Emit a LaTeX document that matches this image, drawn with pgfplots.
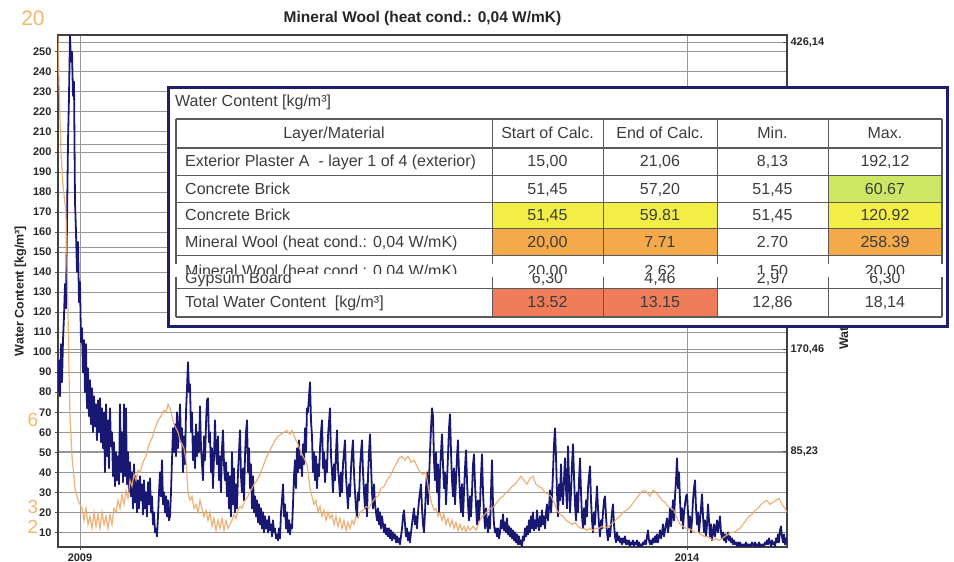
\documentclass[border=0pt]{standalone}
\usepackage{fontspec}
\setmainfont{Liberation Sans}
\usepackage{pgfplots}
\pgfplotsset{compat=1.18}
\definecolor{navyline}{RGB}{24,24,115}
\definecolor{orangeline}{RGB}{236,168,104}
\definecolor{gridgray}{RGB}{150,150,150}
\definecolor{framenavy}{RGB}{30,30,110}
\definecolor{cellyellow}{RGB}{243,238,70}
\definecolor{cellgreen}{RGB}{205,230,100}
\definecolor{cellorange}{RGB}{244,170,75}
\definecolor{cellred}{RGB}{240,125,90}
\definecolor{txt}{RGB}{60,60,60}
\definecolor{tablegray}{RGB}{90,90,90}
\definecolor{labelorange}{RGB}{242,184,104}
\begin{document}
\begin{tikzpicture}
\path[use as bounding box] (0,0) rectangle (954pt,562pt);
% right axis
\begin{axis}[at={(58pt,15pt)}, anchor=south west, scale only axis, width=729pt, height=512pt,
 xmin=-66, xmax=2121, ymin=5.8, ymax=432.5,
 axis x line=none, axis y line*=right,
 ytick={85.23,170.46,255.69,340.92,426.14},
 yticklabels={{85,23},{170,46},{255,69},{340,92},{426,14}},
 ymajorgrids, grid style={gridgray, line width=0.8pt},
 minor y tick num=4, tick align=inside,
 y axis line style={draw=black!75, line width=1.6pt},
 tick style={draw=black!70, line width=0.6pt},
 yticklabel style={font=\bfseries\fontsize{11}{12}\selectfont, text=black!85},
 ylabel={Water Content [kg/m³]},
 ylabel style={font=\bfseries\fontsize{12.5}{14}\selectfont, text=black!85, at={(axis description cs:1.0796,0.512)}, anchor=center},
]
\end{axis}
% main axis
\begin{axis}[at={(58pt,15pt)}, anchor=south west, scale only axis, width=729pt, height=512pt,
 xmin=-66, xmax=2121, ymin=2.70, ymax=258.39,
 xtick={0,1821}, xticklabels={2009,2014},
 ytick={10,20,...,250},
 xtick pos=bottom, ytick pos=left,
 grid=major, grid style={gridgray, line width=0.8pt},
 axis line style={draw=black!75, line width=1.6pt},
 tick style={draw=black!70, line width=0.8pt}, tick align=outside, major tick length=3pt,
 /pgf/number format/assume math mode=true,
 ticklabel style={font=\bfseries\fontsize{11}{12}\selectfont, text=black!85},
 title={Mineral Wool (heat cond.: 0,04 W/mK)},
 title style={font=\bfseries\fontsize{15.5}{17}\selectfont, text=black!85, yshift=0pt},
 ylabel={Water Content [kg/m³]},
 ylabel style={font=\bfseries\fontsize{12.5}{14}\selectfont, text=black!85},
]
\addplot[navyline, line width=1.8pt, line join=round] coordinates {
(-66,80)(-63,96)(-60,78)(-57,104)(-54,85)(-51,106)(-48,118)(-45,134)(-42,122)(-39,165)
(-36,205)(-33,228)(-30,258)(-27,245)(-24,250)(-21,228)(-18,235)(-15,175)(-12,160)(-9,140)
(-6,155)(-3,125)(0,135)(3,105)(6,112)(9,90)(12,106)(15,80)(18,104)(21,72)
(24,92)(27,68)(30,86)(33,64)(36,82)(39,60)(42,78)(45,63)(48,74)(51,56)
(54,76)(57,60)(60,77)(63,55)(66,72)(69,52)(72,70)(75,40)(78,74)(81,48)
(84,66)(87,42)(90,72)(93,53)(96,60)(99,38)(102,55)(105,33)(108,50)(111,36)
(114,48)(117,34)(120,74)(123,40)(126,60)(129,35)(132,74)(135,38)(138,72)(141,34)
(144,50)(147,30)(150,45)(153,28)(156,40)(159,22)(162,44)(165,25)(168,38)(171,20)
(174,36)(177,22)(180,38)(183,26)(186,34)(189,19)(192,36)(195,22)(198,30)(201,18)
(204,35)(207,24)(210,37)(213,20)(216,28)(219,14)(222,20)(225,10)(228,12)(231,8)
(234,18)(237,30)(240,40)(243,28)(246,46)(249,24)(252,30)(255,20)(258,28)(261,18)
(264,26)(267,16)(270,18)(273,30)(276,46)(279,62)(282,50)(285,64)(288,48)(291,70)
(294,52)(297,60)(300,74)(303,55)(306,62)(309,40)(312,58)(315,44)(318,70)(321,82)
(324,95)(327,80)(330,84)(333,60)(336,70)(339,46)(342,58)(345,42)(348,64)(351,48)
(354,60)(357,50)(360,73)(363,52)(366,44)(369,36)(372,58)(375,46)(378,64)(381,76)
(384,77)(387,55)(390,60)(393,40)(396,52)(399,32)(402,48)(405,66)(408,50)(411,44)
(414,58)(417,36)(420,48)(423,30)(426,52)(429,61)(432,44)(435,36)(438,45)(441,28)
(444,40)(447,22)(450,38)(453,18)(456,50)(459,24)(462,42)(465,20)(468,34)(471,22)
(474,40)(477,50)(480,61)(483,38)(486,30)(489,42)(492,26)(495,48)(498,60)(501,66)
(504,40)(507,52)(510,32)(513,44)(516,22)(519,38)(522,20)(525,28)(528,18)(531,26)
(534,15)(537,24)(540,14)(543,22)(546,12)(549,20)(552,10)(555,18)(558,12)(561,16)
(564,10)(567,18)(570,11)(573,14)(576,8)(579,16)(582,10)(585,12)(588,7)(591,9)
(594,6)(597,12)(600,7)(603,20)(606,26)(609,34)(612,18)(615,24)(618,12)(621,20)
(624,10)(627,16)(630,9)(633,14)(636,12)(639,24)(642,38)(645,46)(648,32)(651,52)
(654,40)(657,56)(660,42)(663,48)(666,38)(669,54)(672,44)(675,62)(678,50)(681,72)
(684,70)(687,78)(690,85)(693,66)(696,58)(699,40)(702,50)(705,36)(708,48)(711,32)
(714,44)(717,38)(720,52)(723,60)(726,66)(729,42)(732,50)(735,35)(738,46)(741,40)
(744,58)(747,65)(750,72)(753,48)(756,40)(759,30)(762,44)(765,36)(768,50)(771,61)
(774,42)(777,36)(780,28)(783,40)(786,30)(789,44)(792,50)(795,56)(798,38)(801,30)
(804,22)(807,34)(810,28)(813,42)(816,50)(819,56)(822,40)(825,30)(828,22)(831,18)
(834,30)(837,26)(840,42)(843,50)(846,56)(849,40)(852,30)(855,22)(858,34)(861,18)
(864,38)(867,50)(870,59)(873,44)(876,30)(879,22)(882,34)(885,24)(888,20)(891,16)
(894,22)(897,14)(900,20)(903,12)(906,18)(909,14)(912,10)(915,14)(918,9)(921,12)
(924,8)(927,12)(930,7)(933,11)(936,6)(939,10)(942,7)(945,9)(948,5)(951,8)
(954,5)(957,7)(960,4)(963,8)(966,12)(969,18)(972,21)(975,14)(978,8)(981,12)
(984,6)(987,10)(990,5)(993,10)(996,14)(999,18)(1002,22)(1005,14)(1008,18)(1011,12)
(1014,20)(1017,26)(1020,30)(1023,34)(1026,22)(1029,14)(1032,10)(1035,20)(1038,32)(1041,40)
(1044,24)(1047,36)(1050,50)(1053,62)(1056,72)(1059,68)(1062,46)(1065,36)(1068,50)(1071,30)
(1074,44)(1077,20)(1080,40)(1083,50)(1086,59)(1089,44)(1092,32)(1095,40)(1098,24)(1101,36)
(1104,48)(1107,62)(1110,69)(1113,50)(1116,36)(1119,28)(1122,42)(1125,24)(1128,36)(1131,48)
(1134,56)(1137,40)(1140,28)(1143,20)(1146,34)(1149,18)(1152,30)(1155,42)(1158,51)(1161,36)
(1164,24)(1167,16)(1170,28)(1173,18)(1176,30)(1179,44)(1182,49)(1185,34)(1188,24)(1191,14)
(1194,26)(1197,16)(1200,24)(1203,38)(1206,49)(1209,30)(1212,20)(1215,12)(1218,22)(1221,14)
(1224,10)(1227,18)(1230,12)(1233,30)(1236,46)(1239,24)(1242,14)(1245,10)(1248,12)(1251,8)
(1254,12)(1257,7)(1260,10)(1263,16)(1266,12)(1269,19)(1272,11)(1275,15)(1278,10)(1281,17)
(1284,9)(1287,13)(1290,8)(1293,12)(1296,7)(1299,11)(1302,6)(1305,10)(1308,5)(1311,9)
(1314,4)(1317,8)(1320,4)(1323,6)(1326,3)(1329,8)(1332,6)(1335,12)(1338,8)(1341,13)
(1344,9)(1347,16)(1350,10)(1353,18)(1356,12)(1359,20)(1362,11)(1365,16)(1368,12)(1371,21)
(1374,14)(1377,11)(1380,18)(1383,13)(1386,21)(1389,14)(1392,18)(1395,12)(1398,20)(1401,24)
(1404,16)(1407,22)(1410,31)(1413,20)(1416,28)(1419,40)(1422,54)(1425,62)(1428,48)(1431,30)
(1434,18)(1437,34)(1440,26)(1443,44)(1446,30)(1449,24)(1452,36)(1455,47)(1458,32)(1461,22)
(1464,53)(1467,36)(1470,20)(1473,30)(1476,44)(1479,54)(1482,38)(1485,24)(1488,16)(1491,30)
(1494,20)(1497,36)(1500,47)(1503,30)(1506,18)(1509,12)(1512,22)(1515,14)(1518,26)(1521,18)
(1524,32)(1527,38)(1530,43)(1533,26)(1536,16)(1539,10)(1542,20)(1545,14)(1548,24)(1551,33)
(1554,22)(1557,14)(1560,8)(1563,16)(1566,12)(1569,20)(1572,26)(1575,28)(1578,18)(1581,10)
(1584,6)(1587,12)(1590,8)(1593,14)(1596,20)(1599,24)(1602,14)(1605,8)(1608,5)(1611,10)
(1614,6)(1617,8)(1620,5)(1623,7)(1626,4)(1629,7)(1632,5)(1635,8)(1638,4)(1641,6)
(1644,4)(1647,6)(1650,3)(1653,5)(1656,4)(1659,6)(1662,3)(1665,5)(1668,4)(1671,6)
(1674,3)(1677,5)(1680,3)(1683,4)(1686,3)(1689,5)(1692,4)(1695,6)(1698,4)(1701,8)
(1704,11)(1707,6)(1710,4)(1713,6)(1716,4)(1719,7)(1722,5)(1725,8)(1728,5)(1731,9)
(1734,5)(1737,8)(1740,11)(1743,7)(1746,10)(1749,14)(1752,8)(1755,11)(1758,14)(1761,17)
(1764,10)(1767,14)(1770,22)(1773,13)(1776,18)(1779,26)(1782,16)(1785,28)(1788,36)(1791,47)
(1794,32)(1797,40)(1800,26)(1803,16)(1806,22)(1809,12)(1812,20)(1815,24)(1818,28)(1821,29)
(1824,20)(1827,12)(1830,18)(1833,10)(1836,16)(1839,26)(1842,32)(1845,36)(1848,22)(1851,14)
(1854,20)(1857,10)(1860,16)(1863,22)(1866,29)(1869,18)(1872,10)(1875,16)(1878,8)(1881,14)
(1884,24)(1887,16)(1890,8)(1893,14)(1896,6)(1899,10)(1902,14)(1905,8)(1908,12)(1911,16)
(1914,10)(1917,14)(1920,18)(1923,10)(1926,7)(1929,10)(1932,6)(1935,9)(1938,5)(1941,8)
(1944,10)(1947,6)(1950,8)(1953,5)(1956,7)(1959,4)(1962,6)(1965,4)(1968,5)(1971,3)
(1974,5)(1977,3)(1980,5)(1983,3)(1986,4)(1989,3)(1992,4)(1995,3)(1998,5)(2001,3)
(2004,4)(2007,3)(2010,4)(2013,3)(2016,5)(2019,4)(2022,3)(2025,5)(2028,3)(2031,4)
(2034,3)(2037,5)(2040,3)(2043,4)(2046,3)(2049,4)(2052,3)(2055,5)(2058,4)(2061,6)
(2064,4)(2067,7)(2070,5)(2073,3)(2076,6)(2079,4)(2082,5)(2085,3)(2088,7)(2091,5)
(2094,9)(2097,5)(2100,11)(2103,13)(2106,8)(2109,5)(2112,9)(2115,4)(2118,7)(2121,5)
};
\addplot[orangeline, line width=1.2pt, opacity=0.9] coordinates {
(-66,258)(-63,235)(-57,200)(-51,183)(-42,170)(-36,120)(-33,90)(-30,68)(-24,48)(-15,32)
(-6,26)(0,24)(6,22)(12,16)(18,22)(24,14)(30,18)(36,12)(42,20)(48,13)
(54,19)(60,12)(66,20)(72,14)(78,18)(84,12)(90,19)(96,14)(102,22)(108,20)
(114,26)(120,22)(126,29)(132,24)(138,31)(144,27)(150,36)(156,33)(162,39)(168,36)
(174,41)(180,40)(189,45)(198,48)(207,54)(216,57)(225,62)(234,66)(243,68)(252,71)
(258,70)(264,74)(270,72)(276,68)(282,64)(288,62)(294,60)(300,56)(306,54)(312,52)
(318,46)(324,30)(330,26)(336,28)(342,22)(348,24)(354,20)(360,26)(366,22)(372,18)
(378,21)(384,16)(390,20)(396,13)(402,17)(408,11)(414,16)(420,12)(426,17)(432,11)
(438,16)(444,12)(450,14)(456,16)(462,19)(468,17)(474,21)(480,23)(486,22)(495,26)
(504,28)(513,31)(522,34)(531,36)(540,39)(549,43)(558,47)(567,50)(576,53)(585,56)
(594,58)(603,59)(612,60)(621,61)(630,59)(636,61)(645,57)(654,54)(663,50)(672,47)
(681,44)(690,32)(696,28)(702,24)(708,26)(714,20)(720,23)(726,18)(732,21)(738,16)
(744,20)(750,17)(756,19)(762,14)(768,18)(774,13)(780,17)(786,12)(792,16)(798,11)
(804,15)(810,12)(816,16)(822,14)(828,18)(834,17)(840,20)(849,21)(858,23)(867,22)
(876,25)(885,27)(894,28)(903,32)(912,33)(921,36)(930,38)(939,41)(948,44)(957,47)
(966,48)(975,46)(984,48)(993,45)(1002,46)(1011,43)(1020,40)(1029,39)(1038,40)(1047,30)
(1056,24)(1062,21)(1068,22)(1074,18)(1080,20)(1086,16)(1092,19)(1098,14)(1104,17)(1110,13)
(1116,16)(1122,12)(1128,15)(1134,11)(1140,14)(1146,11)(1152,13)(1158,10)(1164,13)(1170,11)
(1179,13)(1188,11)(1197,15)(1206,18)(1215,19)(1224,21)(1233,22)(1242,23)(1251,25)(1260,27)
(1269,28)(1278,30)(1287,31)(1296,33)(1305,34)(1314,36)(1323,38)(1332,36)(1341,34)(1350,37)
(1359,38)(1368,34)(1377,33)(1386,32)(1395,30)(1404,29)(1413,28)(1422,25)(1431,21)(1440,19)
(1449,18)(1458,16)(1467,15)(1476,14)(1485,15)(1494,13)(1503,12)(1512,12)(1521,11)(1530,12)
(1539,11)(1548,12)(1557,12)(1566,13)(1575,12)(1584,13)(1593,14)(1602,15)(1611,17)(1620,18)
(1629,20)(1638,21)(1647,22)(1656,24)(1665,26)(1674,28)(1683,30)(1692,31)(1701,30)(1710,28)
(1719,31)(1728,30)(1737,28)(1746,26)(1755,25)(1764,23)(1773,22)(1782,21)(1791,17)(1800,14)
(1809,13)(1818,12)(1827,12)(1836,11)(1845,10)(1854,10)(1863,9)(1872,8)(1881,8)(1890,7)
(1899,6)(1908,7)(1917,6)(1926,7)(1935,8)(1944,9)(1953,10)(1962,10)(1971,11)(1980,12)
(1989,14)(1998,16)(2007,18)(2016,19)(2025,21)(2034,22)(2043,24)(2052,25)(2061,26)(2070,24)
(2079,25)(2088,26)(2097,27)(2106,24)(2115,22)(2121,20)
};
\end{axis}
% overlay: orange side labels and the table (image pixel coordinates)
\begin{scope}[yshift=562pt, x=1pt, y=-1pt]
 \node[font=\fontsize{21}{22}\selectfont, text=labelorange] at (33,18) {20};
 \node[font=\fontsize{19}{20}\selectfont, text=labelorange] at (33,420) {6};
 \node[font=\fontsize{19}{20}\selectfont, text=labelorange] at (33,507) {3};
 \node[font=\fontsize{19}{20}\selectfont, text=labelorange] at (33,527) {2};
 \draw[framenavy, line width=3pt, fill=white] (168,88) rectangle (947,327);
 \fill[cellgreen] (828,176) rectangle (942,203);
 \fill[cellyellow] (492,203) rectangle (717,229);
 \fill[cellyellow] (828,203) rectangle (942,229);
 \fill[cellorange] (492,229) rectangle (717,256);
 \fill[cellorange] (828,229) rectangle (942,256);
 \fill[cellred] (492,289) rectangle (717,317);
 \draw[tablegray, line width=1.6pt] (176,119) -- (942,119);
 \draw[tablegray, line width=1.6pt] (176,148) -- (942,148);
 \draw[tablegray, line width=1.6pt] (176,317) -- (942,317);
 \foreach \yy in {176,203,229,256,289} {\draw[tablegray, line width=1pt] (176,\yy) -- (942,\yy);}
 \foreach \xx in {176,942} {\draw[tablegray, line width=1.6pt] (\xx,119) -- (\xx,264); \draw[tablegray, line width=1.6pt] (\xx,277) -- (\xx,317);}
 \foreach \xx in {492,603,717,828} {\draw[tablegray, line width=1pt] (\xx,119) -- (\xx,264); \draw[tablegray, line width=1pt] (\xx,277) -- (\xx,317);}
 \begin{scope}[every node/.style={font=\fontsize{16}{18}\selectfont, text=txt, inner sep=0pt}]
 \node[anchor=base west] at (175,107) {Water Content [kg/m³]};
 \node[anchor=base] at (334,139) {Layer/Material};
 \node[anchor=base] at (547.5,139) {Start of Calc.};
 \node[anchor=base] at (660,139) {End of Calc.};
 \node[anchor=base] at (772.5,139) {Min.};
 \node[anchor=base] at (885,139) {Max.};
 \node[anchor=base west] at (185,167) {Exterior Plaster A~ - layer 1 of 4 (exterior)};
 \node[anchor=base] at (547.5,167) {15,00};
 \node[anchor=base] at (660,167) {21,06};
 \node[anchor=base] at (772.5,167) {8,13};
 \node[anchor=base] at (885,167) {192,12};
 \node[anchor=base west] at (185,195) {Concrete Brick};
 \node[anchor=base] at (547.5,195) {51,45};
 \node[anchor=base] at (660,195) {57,20};
 \node[anchor=base] at (772.5,195) {51,45};
 \node[anchor=base] at (885,195) {60.67};
 \node[anchor=base west] at (185,221) {Concrete Brick};
 \node[anchor=base] at (547.5,221) {51,45};
 \node[anchor=base] at (660,221) {59.81};
 \node[anchor=base] at (772.5,221) {51,45};
 \node[anchor=base] at (885,221) {120.92};
 \node[anchor=base west] at (185,248) {Mineral Wool (heat cond.: 0,04 W/mK)};
 \node[anchor=base] at (547.5,248) {20,00};
 \node[anchor=base] at (660,248) {7.71};
 \node[anchor=base] at (772.5,248) {2.70};
 \node[anchor=base] at (885,248) {258.39};
 \begin{scope}
  \clip (170,257) rectangle (945,273.5);
  \node[anchor=base west] at (185,277) {Mineral Wool (heat cond.: 0,04 W/mK)};
  \node[anchor=base] at (547.5,277) {20,00};
  \node[anchor=base] at (660,277) {2,62};
  \node[anchor=base] at (772.5,277) {1,50};
  \node[anchor=base] at (885,277) {20,00};
 \end{scope}
 \begin{scope}
  \clip (170,274) rectangle (945,288);
  \node[anchor=base west] at (185,284) {Gypsum Board};
  \node[anchor=base] at (547.5,284) {6,30};
  \node[anchor=base] at (660,284) {4,46};
  \node[anchor=base] at (772.5,284) {2,97};
  \node[anchor=base] at (885,284) {6,30};
 \end{scope}
 \node[anchor=base west] at (185,308) {Total Water Content~ [kg/m³]};
 \node[anchor=base] at (547.5,308) {13.52};
 \node[anchor=base] at (660,308) {13.15};
 \node[anchor=base] at (772.5,308) {12,86};
 \node[anchor=base] at (885,308) {18,14};
 \end{scope}
\end{scope}
\end{tikzpicture}
\end{document}
